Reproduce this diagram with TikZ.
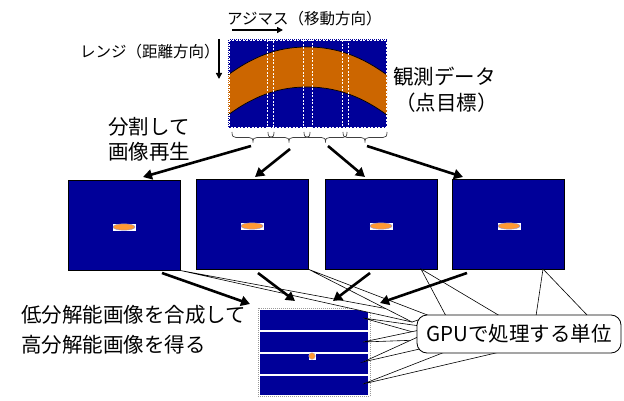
\documentclass[tikz,border=0pt]{standalone}
\usepackage{fontspec}
\setmainfont{Noto Sans CJK JP}
\usetikzlibrary{arrows.meta}
\definecolor{imgblue}{RGB}{0,0,153}
\definecolor{bandorange}{RGB}{204,102,0}
\definecolor{spotorange}{RGB}{255,153,51}
\begin{document}
\begin{tikzpicture}[x=1pt,y=-1pt,
  bigtxt/.style={font=\fontsize{20.5}{24}\selectfont, inner sep=0pt, anchor=west},
  smalltxt/.style={font=\fontsize{15.5}{18}\selectfont, inner sep=0pt, anchor=west},
  imgbox/.style={draw=black, line width=1pt, fill=imgblue, inner sep=0pt, minimum width=112pt, minimum height=89pt},
  strip/.style={fill=imgblue, inner sep=0pt, minimum width=108pt, minimum height=20pt},
  fatarrow/.style={line width=2.6pt, -{Triangle[length=9pt,width=10pt]}},
  thinarrow/.style={line width=1.4pt, -{Triangle[length=6pt,width=6pt]}},
  segline/.style={draw=white, line width=0.8pt, dash pattern=on 2pt off 1.5pt},
  brc/.style={draw=black!75, line width=0.7pt},
  tail/.style={fill=white, draw=black, line width=0.6pt},
  spotbg/.style={fill=white}
]
\useasboundingbox (0,0) rectangle (624,401);

% ---------- top: observation data ----------
\node[smalltxt] (azi) at (227,19) {アジマス（移動方向）};
\coordinate (azA) at (232,30);
\coordinate (azB) at (283,30);
\draw[thinarrow] (azA) -- (azB);
\node[smalltxt] (rng) at (80,52) {レンジ（距離方向）};
\coordinate (rgA) at (219,39);
\coordinate (rgB) at (219,79);
\draw[thinarrow] (rgA) -- (rgB);

\node[fill=imgblue, inner sep=0pt, minimum width=159pt, minimum height=89pt] (obs) at (307.5,83.5) {};
\fill[bandorange] (228,75) .. controls (258,53) and (283,47) .. (307,47)
  .. controls (331,47) and (357,53) .. (387,75) -- (387,115)
  .. controls (357,93) and (331,87) .. (307,87)
  .. controls (283,87) and (258,93) .. (228,115) -- cycle;
\draw[black, line width=0.7pt] (228,75) .. controls (258,53) and (283,47) .. (307,47)
  .. controls (331,47) and (357,53) .. (387,75);
\draw[black, line width=0.7pt] (228,115) .. controls (258,93) and (283,87) .. (307,87)
  .. controls (331,87) and (357,93) .. (387,115);
\draw[segline] (229.5,40.5) rectangle (273,127);
\draw[segline] (267,40.5) rectangle (312,127);
\draw[segline] (303,40.5) rectangle (348,127);
\draw[segline] (342,40.5) rectangle (386,127);
\draw[white, line width=0.6pt, dash pattern=on 1pt off 1pt] (228,39) rectangle (387,128);

\node[bigtxt] (obst1) at (393,77) {観測データ};
\node[bigtxt] (obst2) at (395,103) {（点目標）};

\foreach \a/\m/\b in {232/253/274, 268/289/310, 304/325.5/347, 343/365/387}{
  \draw[brc] (\a,132) .. controls (\a,136) and (\a+1,137.5) .. (\a+4,137.5) -- (\m-4,137.5)
    .. controls (\m-1,137.5) and (\m,138.5) .. (\m,142.5)
    .. controls (\m,138.5) and (\m+1,137.5) .. (\m+4,137.5) -- (\b-4,137.5)
    .. controls (\b-1,137.5) and (\b,136) .. (\b,132);
}
\coordinate (t1) at (251,146);
\coordinate (t2) at (290,149);
\coordinate (t3) at (328,146);
\coordinate (t4) at (367,146);

\node[bigtxt] (split1) at (108,127) {分割して};
\node[bigtxt] (split2) at (108,152) {画像再生};

% ---------- middle: four images ----------
\node[imgbox] (box1) at (124,225.5) {};
\node[imgbox] (box2) at (252.5,224.5) {};
\node[imgbox] (box3) at (381,224.5) {};
\node[imgbox] (box4) at (508.5,224.5) {};
\foreach \cx/\cy in {124/227, 252/226, 381/226, 509/226}{
  \fill[spotbg] (\cx-11.5,\cy-3.5) rectangle (\cx+11.5,\cy+3.5);
  \filldraw[fill=spotorange, draw=imgblue!45, line width=0.4pt] (\cx,\cy) ellipse (11 and 3.2);
}
\coordinate (e1) at (143,177);
\coordinate (e2) at (255,177);
\coordinate (e3) at (365,177);
\coordinate (e4) at (463,177);

% ---------- bottom: composite ----------
\node[draw=black!40, dash pattern=on 1pt off 1pt, fill=white, inner sep=0pt, minimum width=112pt, minimum height=88pt] (comp) at (314,352) {};
\node[strip] (s1) at (314,320) {};
\node[strip] (s2) at (314,342) {};
\node[strip] (s3) at (314,364) {};
\node[strip, minimum height=19pt] (s4) at (314,385.5) {};
\fill[spotbg] (308.5,352.5) rectangle (315.5,359.5);
\filldraw[fill=spotorange, draw=imgblue!35, line width=0.3pt] (312,356) circle (3.3);

\node[bigtxt] (res1) at (21,315) {低分解能画像を合成して};
\node[bigtxt] (res2) at (21,345) {高分解能画像を得る};

% ---------- callout tails ----------
\coordinate (p1) at (box1.south east);
\coordinate (p2) at (box2.south east);
\coordinate (p3) at (421,269);
\coordinate (p4) at (543,269);
\coordinate (q1) at (363,318);
\coordinate (q2) at (363,342);
\coordinate (q3) at (363,362);
\coordinate (q4) at (363,384);
\draw[tail] (p1) -- (412,322) -- (426,316) -- cycle;
\draw[tail] (p2) -- (412,322) -- (430,316) -- cycle;
\draw[tail] (p3) -- (446,316) -- (500,316) -- cycle;
\draw[tail] (p4) -- (536,316) -- (588,316) -- cycle;
\draw[tail] (q1) -- (420,326) -- (420,334) -- cycle;
\draw[tail] (q2) -- (420,330) -- (420,340) -- cycle;
\draw[tail] (q3) -- (420,336) -- (424,348) -- cycle;
\draw[tail] (q4) -- (445,352) -- (500,352) -- cycle;
\node[draw=black, line width=0.8pt, fill=white, rounded corners=10pt, minimum width=204pt, minimum height=38pt, inner sep=0pt, font=\fontsize{20.5}{24}\selectfont] (callout) at (519,334) {GPUで処理する単位};

% ---------- fat arrows ----------
\draw[fatarrow] (t1) -- (e1);
\draw[fatarrow] (t2) -- (e2);
\draw[fatarrow] (t3) -- (e3);
\draw[fatarrow] (t4) -- (e4);
\coordinate (f1a) at (162,273);
\coordinate (f1b) at (250,304);
\coordinate (f2a) at (258,273);
\coordinate (f2b) at (295,301);
\coordinate (f3a) at (370,273);
\coordinate (f3b) at (333,301);
\coordinate (f4a) at (467,273);
\coordinate (f4b) at (380,303);
\draw[fatarrow] (f1a) -- (f1b);
\draw[fatarrow] (f2a) -- (f2b);
\draw[fatarrow] (f3a) -- (f3b);
\draw[fatarrow] (f4a) -- (f4b);
\end{tikzpicture}
\end{document}
